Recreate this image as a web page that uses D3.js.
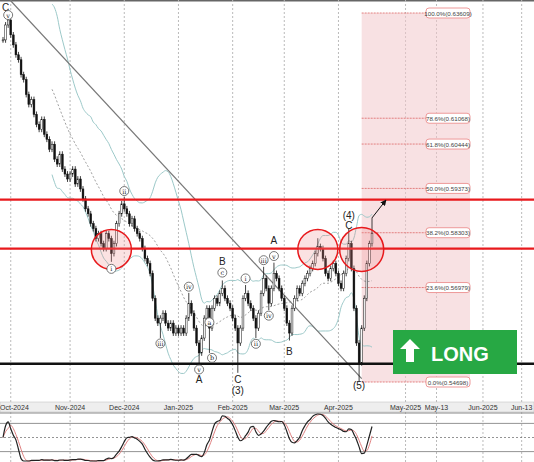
<!DOCTYPE html>
<html><head><meta charset="utf-8">
<script src="https://cdn.jsdelivr.net/npm/d3@7"></script>
<style>
body{margin:0;background:#fff;font-family:"Liberation Sans",Arial,sans-serif;}
</style></head>
<body><div id="chart"></div>
<script>
// daily closes, bar index 0 = late Sep 2024
const closes = [0.6296,0.6332,0.6344,0.6308,0.6284,0.6260,0.6248,0.6212,0.6200,0.6164,0.6140,0.6152,0.6116,0.6092,0.6080,0.6104,0.6068,0.6056,0.6032,0.6044,0.6008,0.5996,0.6020,0.5984,0.5972,0.5960,
0.5972,0.5984,0.5948,0.5960,0.5936,0.5912,0.5888,0.5876,0.5852,0.5840,0.5816,0.5828,0.5804,0.5792,0.5828,0.5816,0.5780,0.5804,0.5852,0.5876,0.5900,
0.5888,0.5876,0.5852,0.5864,0.5840,0.5828,0.5816,0.5792,0.5768,0.5756,0.5732,0.5672,0.5624,0.5612,0.5624,0.5636,0.5612,0.5600,0.5612,0.5588,0.5600,0.5588,
0.5600,0.5588,0.5624,0.5660,0.5636,0.5600,0.5564,0.5540,0.5576,0.5624,0.5648,0.5600,0.5648,0.5672,0.5660,0.5684,0.5696,0.5672,0.5660,0.5648,0.5624,0.5600,0.5564,
0.5600,0.5672,0.5684,0.5660,0.5648,0.5624,0.5600,0.5636,0.5684,0.5720,0.5696,0.5660,0.5696,0.5732,0.5720,0.5696,0.5672,0.5648,0.5612,0.5588,
0.5648,0.5672,0.5696,0.5684,0.5708,0.5720,0.5732,0.5744,0.5756,0.5780,0.5797,0.5792,0.5768,0.5732,0.5720,0.5744,0.5756,0.5732,0.5708,0.5696,0.5732,
0.5768,0.5804,0.5744,0.5648,0.5564,0.5516,0.5600,0.5672,0.5756,0.5804,0.5828];
// notable wick extremes [bar index, price]
const spikeHighs = [[2,0.6358],[47,0.5916],[72,0.5685],[85,0.5715],[94,0.5704],[101,0.5748],[105,0.5758],[122,0.5817],[134,0.5841],[143,0.5866]];
const spikeLows = [[42,0.5760],[61,0.5576],[76,0.5512],[80,0.5540],[91,0.5492],[98,0.5576],[103,0.5643],[111,0.5570],[138,0.5470]];

const monthTicks = [[3,"Oct-2024"],[26,"Nov-2024"],[47,"Dec-2024"],[68,"Jan-2025"],[89,"Feb-2025"],[109,"Mar-2025"],[130,"Apr-2025"],[156,"May-2025"],[168,"May-13"],[186,"Jun-2025"],[201,"Jun-13"]];

const fibLevels = [["100.0%(0.63609)",0.63609],["78.6%(0.61068)",0.61068],["61.8%(0.60444)",0.60444],["50.0%(0.59373)",0.59373],["38.2%(0.58303)",0.58303],["23.6%(0.56979)",0.56979],["0.0%(0.54698)",0.54698]];
const resistance = [0.5910, 0.5792];
const support = 0.5514;

// wave labels [bar index, price, text, circled]
const waveLabels = [[1,0.6376,"C",false],[2,0.6356,"v",true],[42,0.5743,"i",true],[47,0.5931,"ii",true],[61,0.5563,"iii",true],[72,0.5700,"iv",true],[76,0.5500,"v",true],
[80,0.5614,"a",true],[81,0.5528,"b",true],[85,0.5734,"c",true],[94,0.5720,"i",true],[98,0.5562,"ii",true],[101,0.5764,"iii",true],[103,0.5630,"iv",true],[105,0.5774,"v",true]];
const plainLabels = [[76,0.5478,"A"],[85,0.5763,"B"],[91,0.5478,"C"],[91,0.5450,"(3)"],[105,0.5812,"A"],[111,0.5544,"B"],[134,0.5873,"(4)"],[134,0.5848,"C"],[138,0.5462,"(5)"]];
const circles = [[42,0.5790,20],[122,0.5790,20],[139,0.5790,22]];

const W = 534, H = 462;
const svg = d3.select("#chart").append("svg").attr("width", W).attr("height", H);

const x = d3.scaleLinear().domain([0, 143]).range([3, 372]);
const y = d3.scaleLinear().domain([0.54698, 0.63609]).range([382, 13]);

const opens = closes.map((c, i) => i ? closes[i - 1] : c);
const hiMap = new Map(spikeHighs), loMap = new Map(spikeLows);

// grid
svg.append("line").attr("x1",0).attr("x2",W).attr("y1",0.5).attr("y2",0.5).attr("stroke","#666").attr("stroke-width",2);
svg.selectAll(".vg").data(monthTicks).enter().append("line")
  .attr("x1", d => x(d[0])).attr("x2", d => x(d[0])).attr("y1", 0).attr("y2", H)
  .attr("stroke", "#bbb").attr("stroke-dasharray", "2,2");

// fib box
const fx0 = x(139), fx1 = 470;
svg.append("rect").attr("x", fx0).attr("y", y(0.63609)).attr("width", fx1 - fx0).attr("height", y(0.54698) - y(0.63609))
  .attr("fill", "#f3c9cc").attr("opacity", 0.55);
fibLevels.forEach(([t, p]) => {
  svg.append("line").attr("x1", fx0).attr("x2", fx1 - 4).attr("y1", y(p)).attr("y2", y(p))
    .attr("stroke", "#d66").attr("stroke-dasharray", "2,1").attr("stroke-width", 0.8);
  const g = svg.append("g").attr("transform", `translate(${fx1},${y(p)})`);
  g.append("rect").attr("x", -44).attr("y", -5).attr("width", 44).attr("height", 10).attr("rx", 3)
    .attr("fill", "#fff").attr("stroke", "#e99");
  g.append("text").attr("x", -22).attr("y", 2.5).attr("text-anchor", "middle").attr("font-size", 6.2).attr("fill", "#444").text(t);
});

// bollinger
const n = 20;
const bb = closes.map((c, i) => {
  if (i < n - 1) return null;
  const s = closes.slice(i - n + 1, i + 1), m = d3.mean(s), sd = d3.deviation(s);
  return {i, m, u: m + 2 * sd, l: m - 2 * sd};
}).filter(d => d);
const ln = k => d3.line().x(d => x(d.i)).y(d => y(d[k])).curve(d3.curveMonotoneX);
svg.append("path").datum(bb).attr("d", ln("u")).attr("fill", "none").attr("stroke", "#9cc9c9");
svg.append("path").datum(bb).attr("d", ln("l")).attr("fill", "none").attr("stroke", "#9cc9c9");
svg.append("path").datum(bb).attr("d", ln("m")).attr("fill", "none").attr("stroke", "#888").attr("stroke-dasharray", "2,2").attr("stroke-width", 0.8);

// trendline
svg.append("line").attr("x1", 10).attr("y1", 0).attr("x2", x(139)).attr("y2", y(0.5478)).attr("stroke", "#777").attr("stroke-width", 1.2);

// candles
const bars = svg.append("g");
closes.forEach((c, i) => {
  const o = opens[i];
  const hi = hiMap.get(i) || Math.max(o, c) + 0.0007;
  const lo = loMap.get(i) || Math.min(o, c) - 0.0007;
  bars.append("line").attr("x1", x(i)).attr("x2", x(i)).attr("y1", y(hi)).attr("y2", y(lo)).attr("stroke", "#111").attr("stroke-width", 0.8);
  bars.append("rect").attr("x", x(i) - 0.9).attr("width", 1.8)
    .attr("y", y(Math.max(o, c))).attr("height", Math.max(1, Math.abs(y(o) - y(c))))
    .attr("fill", c >= o ? "#fff" : "#111").attr("stroke", "#111").attr("stroke-width", 0.5);
});

// horizontal levels
resistance.forEach(p => svg.append("line").attr("x1", 0).attr("x2", W).attr("y1", y(p)).attr("y2", y(p)).attr("stroke", "#e8191c").attr("stroke-width", 2.2));
svg.append("line").attr("x1", 0).attr("x2", W).attr("y1", y(support)).attr("y2", y(support)).attr("stroke", "#111").attr("stroke-width", 2.5);

// circles
circles.forEach(([i, p, r]) => svg.append("circle").attr("cx", x(i)).attr("cy", y(p)).attr("r", r)
  .attr("fill", "rgba(240,140,140,0.25)").attr("stroke", "#e8191c").attr("stroke-width", 1.5));

// arrow
svg.append("defs").append("marker").attr("id", "ah").attr("viewBox", "0 0 10 10").attr("refX", 9).attr("refY", 5)
  .attr("markerWidth", 6).attr("markerHeight", 6).attr("orient", "auto")
  .append("path").attr("d", "M0,0L10,5L0,10z").attr("fill", "#111");
svg.append("line").attr("x1", x(143)).attr("y1", y(0.5866)).attr("x2", 386).attr("y2", 200)
  .attr("stroke", "#111").attr("stroke-width", 1).attr("marker-end", "url(#ah)");

// wave labels
waveLabels.forEach(([i, p, t, c]) => {
  const g = svg.append("g").attr("transform", `translate(${x(i)},${y(p)})`);
  if (c) g.append("circle").attr("r", 4.5).attr("fill", "#fff").attr("stroke", "#555").attr("stroke-width", 0.8);
  g.append("text").attr("y", c ? 2.5 : 4).attr("text-anchor", "middle").attr("font-size", c ? 6.5 : 10)
    .attr("font-family", c ? "DejaVu Serif" : "Liberation Sans").attr("fill", "#222").text(t);
});
plainLabels.forEach(([i, p, t]) => svg.append("text").attr("x", x(i)).attr("y", y(p) + 4).attr("text-anchor", "middle")
  .attr("font-size", 10).attr("fill", "#222").text(t));

// LONG box
const lg = svg.append("g").attr("transform", "translate(393,330)");
lg.append("rect").attr("width", 124).attr("height", 44).attr("fill", "#27a844");
lg.append("path").attr("d", "M17,9 L27,19 L21,19 L21,32 L13,32 L13,19 L7,19 Z").attr("fill", "#fff");
lg.append("text").attr("x", 38).attr("y", 31).attr("font-size", 20).attr("font-weight", "bold").attr("fill", "#fff").text("LONG");

// axis strip
svg.append("rect").attr("x", 0).attr("y", 402).attr("width", W).attr("height", 10).attr("fill", "#eee").attr("stroke", "#bbb").attr("stroke-width", 0.5);
svg.selectAll(".tl").data(monthTicks).enter().append("text")
  .attr("x", (d, i) => i === 0 ? 0 : x(d[0])).attr("y", 410).attr("text-anchor", (d, i) => i === 0 ? "start" : "middle")
  .attr("font-size", 7).attr("fill", "#333").text(d => d[1]);

// stochastic panel
const ys = d3.scaleLinear().domain([0, 100]).range([461, 414]);
svg.append("line").attr("x1", 0).attr("x2", W).attr("y1", 413).attr("y2", 413).attr("stroke", "#888");
[80, 20].forEach(v => svg.append("line").attr("x1", 0).attr("x2", W).attr("y1", ys(v)).attr("y2", ys(v)).attr("stroke", "#666").attr("stroke-width", 0.7));
svg.append("line").attr("x1", 0).attr("x2", W).attr("y1", ys(50)).attr("y2", ys(50)).attr("stroke", "#666").attr("stroke-dasharray", "2,2").attr("stroke-width", 0.7);
const raw = closes.map((c, i) => {
  const s = closes.slice(Math.max(0, i - 20), i + 1);
  const hi = d3.max(s), lo = d3.min(s);
  return hi === lo ? 50 : (c - lo) / (hi - lo) * 100;
});
const sma = (a, k) => a.map((v, i) => d3.mean(a.slice(Math.max(0, i - k + 1), i + 1)));
const kLine = sma(raw, 5), dLine = sma(kLine, 3);
const sl = d3.line().x((d, i) => x(i)).y(d => ys(d)).curve(d3.curveMonotoneX);
svg.append("path").datum(dLine).attr("d", sl).attr("fill", "none").attr("stroke", "#e08080").attr("stroke-width", 1);
svg.append("path").datum(kLine).attr("d", sl).attr("fill", "none").attr("stroke", "#222").attr("stroke-width", 1.2);
</script>
</body></html>
